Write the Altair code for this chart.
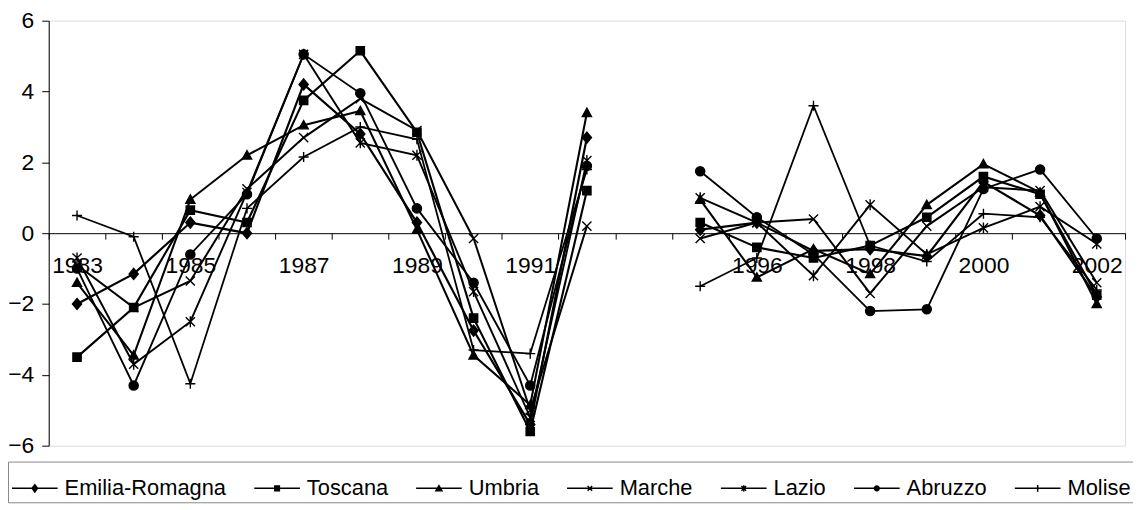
import altair as alt
import pandas as pd

years = ["1983", "1984", "1985", "1986", "1987", "1988", "1989", "1990", "1991", "1992",
         "1995", "1996", "1997", "1998", "1999", "2000", "2001", "2002"]
# full category axis (with one empty slot for the missing years)
categories = ["1983", "1984", "1985", "1986", "1987", "1988", "1989", "1990", "1991", "1992",
              " ", "1995", "1996", "1997", "1998", "1999", "2000", "2001", "2002"]
shown_labels = ["1983", "1985", "1987", "1989", "1991", "1996", "1998", "2000", "2002"]

regions = ["Emilia-Romagna", "Toscana", "Umbria", "Marche", "Lazio", "Abruzzo", "Molise"]

emilia = [-2.0, -1.15, 0.3, 0.0, 4.2, 2.8, 0.3, -2.75, -5.4, 2.7,
          0.1, 0.3, -0.5, -0.45, -0.65, 1.45, 0.5, -1.8]
toscana = [-3.5, -2.1, 0.65, 0.3, 3.75, 5.15, 2.85, -2.4, -5.6, 1.2,
           0.3, -0.4, -0.7, -0.35, 0.45, 1.6, 1.1, -1.75]
umbria = [-1.4, -3.45, 0.95, 2.2, 3.05, 3.45, 0.1, -3.45, -4.85, 3.4,
          0.95, -1.25, -0.45, -1.15, 0.8, 1.95, 1.15, -2.0]
marche = [-0.9, -2.1, -1.35, 1.25, 2.7, 3.8, 2.9, -0.15, -5.0, 0.2,
          -0.15, 0.3, 0.4, -1.7, 0.2, 1.3, 1.2, -1.4]
lazio = [-0.7, -3.7, -2.5, 1.15, 5.05, 2.55, 2.2, -1.65, -5.2, 2.05,
         1.0, 0.3, -1.2, 0.8, -0.6, 0.15, 0.75, -0.3]
abruzzo = [-1.0, -4.3, -0.6, 1.1, 5.05, 3.95, 0.7, -1.4, -4.3, 1.9,
           1.75, 0.45, -0.6, -2.2, -2.15, 1.25, 1.8, -0.15]
molise = [0.5, -0.1, -4.25, 0.7, 2.15, 3.0, 2.65, -3.3, -3.4, 1.8,
          -1.5, -0.7, 3.6, -0.35, -0.8, 0.55, 0.45, -1.6]

series = [emilia, toscana, umbria, marche, lazio, abruzzo, molise]

line_widths = [2.2, 1.8, 1.1, 1.4, 1.4, 2.5, 1.1]

marker_paths = [
    "M0,-1.2L1,0L0,1.2L-1,0Z",                       # diamond
    "M-0.9,-0.9H0.9V0.9H-0.9Z",                       # square
    "M0,-1L1,0.8H-1Z",                                # triangle
    "M-1,-1L1,1M-1,1L1,-1",                           # x
    "M-1,-1L1,1M-1,1L1,-1M0,-1.2V1.2",                # asterisk
    "circle",                                         # circle
    "M-1.1,0H1.1M0,-1.1V1.1",                         # plus
]


def nest(fn, sizes):
    return "".join(fn(s) for s in sizes)


diamond = lambda s: f"M0,{-1.3*s}L{s},0L0,{1.3*s}L{-s},0Z"
square = lambda s: f"M{-s},{-s}H{s}V{s}H{-s}Z"
triangle = lambda s: f"M0,{-s}L{1.1*s},{0.85*s}H{-1.1*s}Z"
circ = lambda s: f"M{-s},0A{s},{s} 0 1,0 {s},0A{s},{s} 0 1,0 {-s},0Z"

legend_paths = [
    "M-1,0H1" + nest(diamond, [0.12, 0.08, 0.04]),
    "M-1,0H1" + nest(square, [0.1, 0.06, 0.025]),
    "M-1,0H1" + nest(triangle, [0.12, 0.075, 0.03]),
    "M-1,0H1M-0.1,-0.1L0.1,0.1M-0.1,0.1L0.1,-0.1",
    "M-1,0H1M-0.1,-0.1L0.1,0.1M-0.1,0.1L0.1,-0.1M0,-0.14V0.14",
    "M-1,0H1" + nest(circ, [0.105, 0.065, 0.025]),
    "M-1,0H1M0,-0.15V0.15",
]

rows = []
for r, vals in zip(regions, series):
    for y, v in zip(years, vals):
        rows.append({"region": r, "year": y, "value": v,
                     "seg": "a" if int(y) <= 1992 else "b"})
df = pd.DataFrame(rows)

FONT = "Liberation Sans"

x_enc = alt.X(
    "year:N",
    bandPosition=0.5,
    scale=alt.Scale(type="band", domain=categories, paddingInner=0, paddingOuter=0),
    axis=alt.Axis(
        title=None, orient="bottom", offset=-214, tickBand="extent",
        labelExpr="indexof(" + str(shown_labels) + ", datum.value) >= 0 ? datum.value : ''",
        labelAngle=0, labelFont=FONT, labelFontSize=23, labelColor="black",
        labelPadding=16, tickSize=6, tickColor="black", domainColor="black",
        labelOverlap=False,
    ),
)
y_enc = alt.Y(
    "value:Q",
    scale=alt.Scale(domain=[-6, 6], nice=False, zero=False),
    axis=alt.Axis(
        title=None, values=[-6, -4, -2, 0, 2, 4, 6], grid=False,
        labelFont=FONT, labelFontSize=23, labelColor="black", labelPadding=8,
        tickSize=7, tickColor="black", domainColor="black",
    ),
)

base = alt.Chart(df)

lines = base.mark_line(color="black").encode(
    x=x_enc, y=y_enc,
    detail=alt.Detail(["region:N", "seg:N"]),
    strokeWidth=alt.StrokeWidth("region:N",
                                scale=alt.Scale(domain=regions, range=line_widths),
                                legend=None),
)

points = base.mark_point(filled=True, color="black", stroke="black",
                         strokeWidth=1.4, size=85, opacity=1).encode(
    x=x_enc, y=y_enc,
    shape=alt.Shape("region:N", scale=alt.Scale(domain=regions, range=marker_paths),
                    legend=None),
)

legend_layer = base.mark_point(filled=False, color="black", opacity=0,
                               strokeWidth=1.5, size=2116).encode(
    x=x_enc, y=y_enc,
    shape=alt.Shape(
        "region:N",
        scale=alt.Scale(domain=regions, range=legend_paths),
        legend=alt.Legend(
            title=None, orient="none", legendX=-41, legendY=444,
            direction="horizontal", columns=7, gridAlign="none",
            columnPadding=25, labelOffset=6, labelFont=FONT, labelFontSize=22,
            labelColor="black", labelLimit=0, symbolSize=2116,
            symbolStrokeWidth=1.5, symbolStrokeColor="black",
            symbolOpacity=1, strokeColor="#888888", padding=3,
        ),
    ),
)

chart = alt.layer(lines, points, legend_layer).resolve_scale(
    shape="independent"
).properties(
    width=1084, height=428,
    autosize=alt.AutoSizeParams(type="none"),
    padding={"left": 41, "top": 11, "right": 8, "bottom": 63},
).configure_view(
    stroke="#888888", strokeWidth=1
).configure(background="white")

chart.save("out.html", embed_options={"renderer": "svg", "actions": False})
